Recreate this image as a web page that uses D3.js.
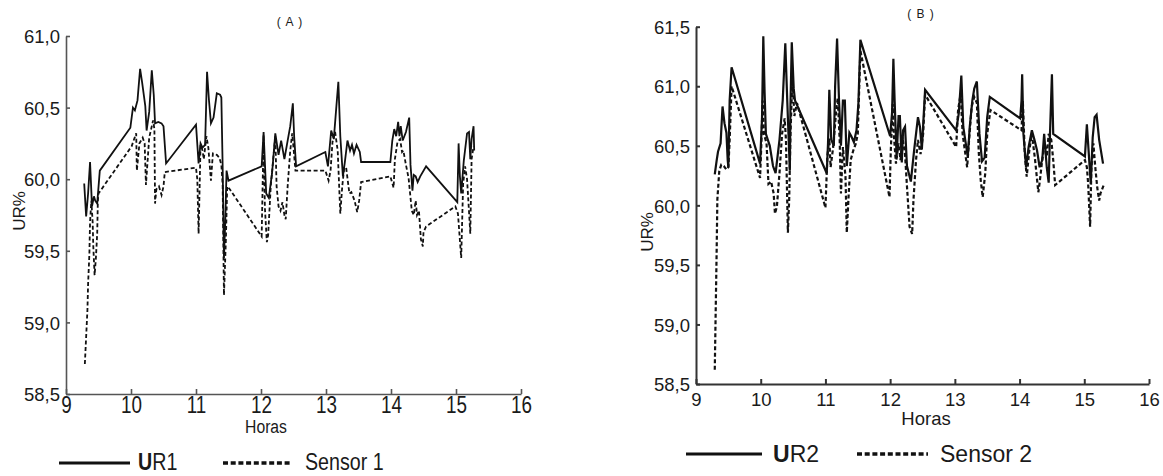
<!DOCTYPE html>
<html>
<head>
<meta charset="utf-8">
<script src="https://cdn.jsdelivr.net/npm/d3@7"></script>
<style>
  html, body { margin: 0; padding: 0; background: #fff; }
  svg { display: block; font-family: "Liberation Sans", Arial, sans-serif; }
</style>
</head>
<body>
<svg id="chart" width="1163" height="476"></svg>
<script>
// Hour ticks shared by both panels
const hourTicks = [9, 10, 11, 12, 13, 14, 15, 16];
const urTicksA = [58.5, 59.0, 59.5, 60.0, 60.5, 61.0];
const urTicksB = [58.5, 59.0, 59.5, 60.0, 60.5, 61.0, 61.5];

// Panel A: relative humidity reference (UR1) and sensor 1, [hour, UR%]
const ur1 = [
  [9.28,59.97],[9.31,59.74],[9.34,59.90],[9.37,60.12],[9.40,59.81],[9.43,59.88],[9.45,59.85],[9.48,59.83],
  [9.52,60.06],[9.99,60.36],[10.03,60.50],[10.06,60.48],[10.10,60.55],[10.14,60.77],[10.17,60.68],[10.22,60.51],
  [10.24,60.34],[10.28,60.47],[10.32,60.76],[10.35,60.59],[10.37,60.39],[10.42,60.40],[10.47,60.39],[10.50,60.37],
  [10.54,60.11],[11.00,60.38],[11.04,60.11],[11.07,60.25],[11.10,60.22],[11.14,60.24],[11.17,60.75],[11.20,60.55],
  [11.23,60.39],[11.27,60.43],[11.32,60.60],[11.37,60.59],[11.39,60.57],[11.41,60.09],[11.43,59.45],[11.45,59.70],
  [11.47,60.06],[11.50,59.99],[12.01,60.09],[12.04,60.33],[12.08,59.90],[12.12,59.87],[12.17,60.04],[12.22,60.32],
  [12.27,60.17],[12.31,60.27],[12.36,60.14],[12.41,60.27],[12.45,60.37],[12.49,60.53],[12.51,60.30],[12.54,60.09],
  [12.99,60.19],[13.03,60.09],[13.08,60.34],[13.12,60.28],[13.16,60.51],[13.19,60.68],[13.22,60.30],[13.26,60.02],
  [13.29,60.12],[13.33,60.27],[13.37,60.20],[13.40,60.24],[13.43,60.18],[13.47,60.24],[13.52,60.19],[13.54,60.12],
  [13.99,60.12],[14.02,60.27],[14.05,60.35],[14.08,60.30],[14.11,60.40],[14.13,60.30],[14.15,60.37],[14.18,60.27],
  [14.23,60.33],[14.28,60.43],[14.30,60.10],[14.33,59.92],[14.35,60.03],[14.38,60.02],[14.41,59.98],[14.45,60.02],
  [14.54,60.09],[15.02,59.84],[15.04,60.25],[15.06,60.02],[15.08,59.90],[15.12,60.13],[15.17,60.32],[15.20,60.33],
  [15.22,60.14],[15.24,60.28],[15.27,60.37],[15.28,60.20]
];
const sensor1 = [
  [9.29,58.71],[9.31,58.90],[9.33,59.09],[9.34,59.27],[9.36,59.48],[9.37,59.70],[9.39,59.85],[9.41,59.70],
  [9.42,59.53],[9.44,59.33],[9.46,59.45],[9.48,59.62],[9.49,59.85],[9.50,59.90],[10.01,60.23],[10.04,60.27],
  [10.08,60.32],[10.09,60.06],[10.13,60.25],[10.18,60.29],[10.21,60.25],[10.23,59.96],[10.28,60.29],[10.34,60.41],
  [10.36,60.35],[10.37,59.83],[10.39,59.93],[10.43,59.95],[10.47,59.89],[10.50,59.95],[10.52,60.05],[11.00,60.08],
  [11.02,60.00],[11.04,59.62],[11.07,60.24],[11.10,60.20],[11.12,60.14],[11.16,60.30],[11.19,60.22],[11.23,59.99],
  [11.26,60.18],[11.32,60.17],[11.36,60.15],[11.39,60.10],[11.41,59.96],[11.43,59.19],[11.46,59.58],[11.48,59.95],
  [11.52,59.93],[12.01,59.60],[12.04,60.31],[12.06,59.80],[12.09,59.56],[12.11,59.61],[12.15,59.95],[12.22,60.30],
  [12.24,59.95],[12.27,59.81],[12.30,59.78],[12.33,59.84],[12.36,59.75],[12.38,59.72],[12.41,59.95],[12.45,60.20],
  [12.48,60.32],[12.50,60.22],[12.53,60.06],[12.99,60.06],[13.04,59.99],[13.07,60.06],[13.10,60.26],[13.14,60.33],
  [13.18,60.20],[13.22,59.76],[13.25,59.95],[13.28,60.08],[13.31,60.08],[13.36,59.90],[13.39,59.91],[13.44,59.85],
  [13.48,59.77],[13.51,59.85],[13.54,59.98],[13.99,60.02],[14.04,59.94],[14.06,60.14],[14.10,60.26],[14.14,60.28],
  [14.17,60.19],[14.19,60.20],[14.23,60.10],[14.27,60.01],[14.32,59.78],[14.35,59.75],[14.38,59.85],[14.40,59.75],
  [14.43,59.78],[14.46,59.58],[14.49,59.53],[14.50,59.63],[14.54,59.67],[14.99,59.81],[15.03,59.76],[15.08,59.45],
  [15.11,59.97],[15.14,60.09],[15.17,60.00],[15.19,59.85],[15.22,59.62],[15.24,60.14],[15.27,60.23]
];

// Panel B: relative humidity reference (UR2) and sensor 2, [hour, UR%]
const ur2 = [
  [9.29,60.26],[9.32,60.38],[9.34,60.45],[9.38,60.52],[9.41,60.83],[9.44,60.69],[9.47,60.61],[9.49,60.38],
  [9.50,60.32],[9.52,60.88],[9.55,61.16],[9.99,60.35],[10.02,60.73],[10.04,61.42],[10.06,60.95],[10.08,60.60],
  [10.11,60.55],[10.14,60.50],[10.19,60.33],[10.23,60.27],[10.29,60.55],[10.34,60.88],[10.38,61.36],[10.41,60.88],
  [10.45,60.29],[10.46,60.85],[10.48,61.37],[10.51,60.98],[10.53,60.88],[11.02,60.27],[11.04,60.52],[11.06,60.97],
  [11.09,60.55],[11.13,60.50],[11.15,61.00],[11.18,61.40],[11.21,60.88],[11.24,60.50],[11.27,60.88],[11.30,60.88],
  [11.33,60.33],[11.37,60.61],[11.40,60.58],[11.44,60.53],[11.48,60.63],[11.51,60.86],[11.54,61.39],[12.00,60.58],
  [12.03,60.78],[12.05,61.23],[12.07,60.87],[12.10,60.40],[12.13,60.75],[12.15,60.75],[12.18,60.36],[12.20,60.63],
  [12.23,60.66],[12.26,60.33],[12.32,60.20],[12.37,60.46],[12.43,60.74],[12.46,60.66],[12.49,60.47],[12.54,60.97],
  [13.02,60.63],[13.06,60.77],[13.10,61.09],[13.13,60.66],[13.16,60.55],[13.20,60.41],[13.23,60.66],[13.27,60.88],
  [13.30,60.98],[13.34,61.04],[13.38,60.60],[13.42,60.37],[13.46,60.40],[13.50,60.74],[13.54,60.91],[14.01,60.73],
  [14.03,60.88],[14.04,61.10],[14.06,60.60],[14.10,60.32],[14.14,60.49],[14.19,60.63],[14.23,60.55],[14.27,60.46],
  [14.31,60.32],[14.35,60.38],[14.38,60.60],[14.42,60.32],[14.45,60.19],[14.47,60.60],[14.50,61.10],[14.52,60.60],
  [15.01,60.41],[15.04,60.68],[15.07,60.43],[15.10,60.18],[15.13,60.57],[15.16,60.74],[15.19,60.76],[15.23,60.55],
  [15.29,60.35]
];
const sensor2 = [
  [9.29,58.62],[9.32,59.65],[9.33,60.05],[9.36,60.29],[9.39,60.34],[9.43,60.33],[9.47,60.30],[9.50,60.32],
  [9.52,60.55],[9.55,61.00],[9.99,60.23],[10.01,60.52],[10.03,60.88],[10.05,60.60],[10.09,60.52],[10.12,60.18],
  [10.16,60.20],[10.20,60.10],[10.22,59.93],[10.25,59.99],[10.29,60.27],[10.33,60.60],[10.37,60.73],[10.39,60.55],
  [10.42,59.77],[10.44,60.05],[10.46,60.60],[10.49,61.08],[10.52,60.75],[10.56,60.86],[11.00,59.98],[11.03,60.41],
  [11.06,60.56],[11.08,60.32],[11.12,60.49],[11.17,60.82],[11.19,60.90],[11.22,60.55],[11.24,60.10],[11.27,60.49],
  [11.31,60.24],[11.33,59.77],[11.36,60.10],[11.39,60.38],[11.43,60.46],[11.47,60.52],[11.50,60.60],[11.54,61.30],
  [11.99,60.07],[12.01,60.46],[12.04,60.85],[12.06,60.57],[12.09,60.35],[12.13,60.52],[12.16,60.38],[12.19,60.57],
  [12.23,60.43],[12.26,60.16],[12.30,59.82],[12.34,59.76],[12.36,60.04],[12.40,60.38],[12.43,60.55],[12.47,60.43],
  [12.51,60.60],[12.54,60.93],[13.02,60.49],[13.05,60.80],[13.09,60.94],[13.12,60.60],[13.16,60.44],[13.19,60.32],
  [13.22,60.55],[13.26,60.83],[13.30,60.91],[13.34,60.86],[13.37,60.44],[13.40,60.21],[13.43,60.07],[13.47,60.27],
  [13.50,60.60],[13.55,60.80],[14.03,60.63],[14.05,60.88],[14.08,60.44],[14.11,60.24],[14.15,60.46],[14.19,60.60],
  [14.24,60.38],[14.29,60.11],[14.31,60.19],[14.35,60.38],[14.39,60.52],[14.42,60.41],[14.45,60.60],[14.49,60.55],
  [14.52,60.38],[14.55,60.17],[15.01,60.38],[15.04,60.32],[15.06,60.18],[15.09,59.82],[15.11,60.32],[15.14,60.52],
  [15.17,60.32],[15.20,60.15],[15.23,60.04],[15.25,60.10],[15.30,60.17]
];

const svg = d3.select("#chart");
const ink = "#1a1a1a";
const commaFmt = v => d3.format(".1f")(v).replace(".", ",");

// Places a text at (x, y) with optional horizontal condensing
function putText(g, x, y, str, o = {}) {
  const sx = o.sx || 1;
  const t = g.append("text")
    .attr("transform", `translate(${x},${y}) scale(${sx},1)` + (o.rotate ? ` rotate(${o.rotate})` : ""))
    .attr("text-anchor", o.anchor || "start")
    .attr("font-size", o.size)
    .attr("fill", ink);
  if (o.letterSpacing) t.attr("letter-spacing", o.letterSpacing);
  if (o.weight) t.attr("font-weight", o.weight);
  t.text(str);
  return t;
}

function drawPanel(c) {
  const g = svg.append("g");
  const x = d3.scaleLinear().domain([9, 16]).range([c.left, c.right]);
  const y = d3.scaleLinear().domain([c.yTicks[0], c.yTicks[c.yTicks.length - 1]]).range([c.bottom, c.top]);

  // Axes with inward ticks
  const xAxis = d3.axisBottom(x).tickValues(hourTicks).tickFormat(d3.format("d"))
    .tickSize(-5).tickSizeOuter(0).tickPadding(c.xPad);
  const yAxis = d3.axisLeft(y).tickValues(c.yTicks).tickFormat(commaFmt)
    .tickSize(-4).tickSizeOuter(0).tickPadding(c.yPad);

  const gx = g.append("g").attr("transform", `translate(0,${c.bottom})`).call(xAxis);
  const gy = g.append("g").attr("transform", `translate(${c.left},0)`).call(yAxis);
  [gx, gy].forEach(a => {
    a.select(".domain").attr("stroke", c.axisColor).attr("stroke-width", c.axisWidth);
    a.selectAll(".tick line").attr("stroke", c.axisColor).attr("stroke-width", c.axisWidth);
    a.selectAll(".tick text").attr("fill", ink).attr("font-family", "Liberation Sans, Arial, sans-serif");
  });
  gx.selectAll(".tick text").attr("font-size", c.xFont).attr("transform", `scale(${c.xScaleX},1)`);
  gy.selectAll(".tick text").attr("font-size", c.yFont).attr("dy", "0.36em");

  // Series
  const line = d3.line().x(d => x(d[0])).y(d => y(d[1]));
  g.append("path").datum(c.solid).attr("d", line)
    .attr("fill", "none").attr("stroke", "#111").attr("stroke-width", c.lineWidth)
    .attr("stroke-linejoin", "miter");
  g.append("path").datum(c.dashed).attr("d", line)
    .attr("fill", "none").attr("stroke", "#111").attr("stroke-width", c.lineWidth)
    .attr("stroke-dasharray", c.dash).attr("stroke-linejoin", "miter");

  // Titles
  putText(g, c.titleX, c.titleY, c.title, { size: 12, anchor: "middle", letterSpacing: 1 });
  putText(g, c.xLabelX, c.xLabelY, "Horas", { size: c.xLabelFont, anchor: "middle", sx: c.xLabelSx });
  putText(g, c.yLabelX, c.yLabelY, "UR%", { size: c.yLabelFont, anchor: "middle", rotate: -90 });

  // Legend
  const L = c.legend;
  g.append("line").attr("x1", L.solidX0).attr("x2", L.solidX1).attr("y1", L.lineY).attr("y2", L.lineY)
    .attr("stroke", "#111").attr("stroke-width", 3);
  g.append("line").attr("x1", L.dotX0).attr("x2", L.dotX1).attr("y1", L.lineY).attr("y2", L.lineY)
    .attr("stroke", "#111").attr("stroke-width", 3.5).attr("stroke-dasharray", "5,2.7");
  const t1 = putText(g, L.text1X, L.textY, "", { size: L.font, sx: L.sx });
  t1.append("tspan").attr("font-weight", "bold").text("U");
  t1.append("tspan").text(L.label1.slice(1));
  putText(g, L.text2X, L.textY, L.label2, { size: L.font, sx: L.sx });
}

drawPanel({
  left: 66, right: 521, top: 36, bottom: 394,
  yTicks: urTicksA, xPad: 3, yPad: 6, xFont: 23, xScaleX: 0.82, yFont: 18.5,
  axisColor: "#555", axisWidth: 1.6, lineWidth: 1.8, dash: "4,2.5",
  solid: ur1, dashed: sensor1,
  title: "( A )", titleX: 290, titleY: 26,
  xLabelX: 266, xLabelY: 433, xLabelFont: 18.5, xLabelSx: 0.85,
  yLabelX: 25, yLabelY: 211, yLabelFont: 17,
  legend: { solidX0: 59, solidX1: 130, dotX0: 223, dotX1: 292, lineY: 463,
            text1X: 138, text2X: 305, textY: 470, font: 24, sx: 0.82,
            label1: "UR1", label2: "Sensor 1" }
});

drawPanel({
  left: 696, right: 1149, top: 26.7, bottom: 384,
  yTicks: urTicksB, xPad: 9, yPad: 6, xFont: 18.5, xScaleX: 1, yFont: 18.5,
  axisColor: "#333", axisWidth: 2, lineWidth: 2.2, dash: "4,2.5",
  solid: ur2, dashed: sensor2,
  title: "( B )", titleX: 921, titleY: 18,
  xLabelX: 926, xLabelY: 425, xLabelFont: 18.5, xLabelSx: 1,
  yLabelX: 653, yLabelY: 232, yLabelFont: 17,
  legend: { solidX0: 686, solidX1: 762, dotX0: 857, dotX1: 928, lineY: 454,
            text1X: 773, text2X: 940, textY: 462, font: 23, sx: 1,
            label1: "UR2", label2: "Sensor 2" }
});
</script>
</body>
</html>
